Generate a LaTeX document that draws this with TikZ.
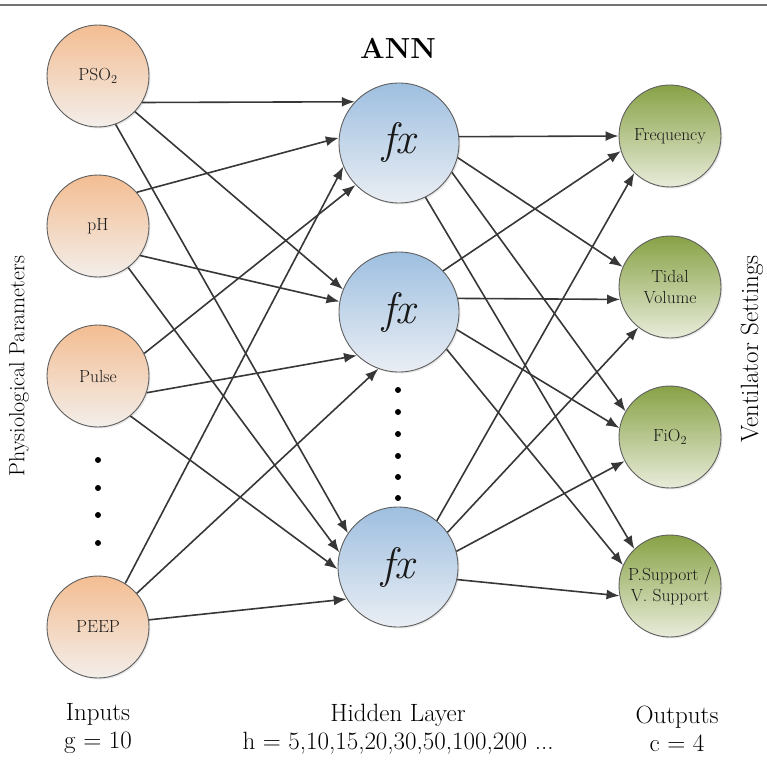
\documentclass[tikz,border=0pt]{standalone}
\usepackage{xcolor}
\usetikzlibrary{arrows.meta,shadows}

\definecolor{inTop}{RGB}{243,189,146}
\definecolor{inBot}{RGB}{243,238,234}
\definecolor{hidTop}{RGB}{158,191,224}
\definecolor{hidBot}{RGB}{234,238,244}
\definecolor{outTop}{RGB}{136,162,70}
\definecolor{outBot}{RGB}{232,236,218}
\definecolor{rim}{RGB}{95,95,95}
\definecolor{wire}{RGB}{55,55,55}

\tikzset{
  neuron/.style={circle,draw=rim,line width=0.9pt,inner sep=0pt,align=center,
    text=black!90,font=\fontsize{17.5}{21}\selectfont,
    drop shadow={shadow xshift=1.5pt,shadow yshift=-1.5pt,opacity=.18}},
  inp/.style={neuron,minimum size=102pt,top color=inTop,bottom color=inBot},
  hid/.style={neuron,minimum size=120pt,top color=hidTop,bottom color=hidBot,
    font=\fontsize{44}{46}\selectfont\itshape},
  outp/.style={neuron,minimum size=102pt,top color=outTop,bottom color=outBot},
  wght/.style={draw=wire,line width=1.6pt,-{Latex[length=13pt,width=10pt]}},
  lbl/.style={align=center,font=\fontsize{25}{28}\selectfont}
}

\begin{document}
\begin{tikzpicture}[x=1pt,y=-1pt]
\useasboundingbox (0,0) rectangle (767,759);
\draw[black!55,line width=1.2pt] (0,5) -- (767,5);

% inputs
\node[inp] (pso) at (98,76) {PSO\textsubscript{2}};
\node[inp] (ph) at (98,226) {pH};
\node[inp] (pulse) at (98,376) {Pulse};
\node[inp] (peep) at (98,627) {PEEP};
\foreach \y in {460,488,515,543}
  \fill (98,\y) circle (3pt);

% hidden layer
\node[hid] (fa) at (399,143) {fx};
\node[hid] (fb) at (399,312) {fx};
\node[hid] (fc) at (398,567) {fx};
\foreach \y in {390,412,434,456,477,498}
  \fill (398,\y) circle (3pt);

% outputs
\node[outp] (freq) at (670,136) {Frequency};
\node[outp] (tidal) at (670,287) {Tidal\\Volume};
\node[outp] (fio) at (670,437) {FiO\textsubscript{2}};
\node[outp] (supp) at (670,586) {P.Support /\\V. Support};

\foreach \s/\a/\t/\b in {pso/-31/fa/137, pso/-44/fb/158, pso/-70/fc/146,
    ph/41/fa/175, ph/-35/fb/170, ph/-54/fc/166,
    pulse/26/fa/224, pulse/-19/fb/226, pulse/-51/fc/182,
    peep/58/fa/203, peep/41/fb/250, peep/8/fc/212}
  \draw[wght] (\s.\a) -- (\t.\b);
\foreach \s/\a/\t/\b in {fa/6/freq/180, fa/-14/tidal/157, fa/-29/fio/150, fa/-64/supp/134,
    fb/43/freq/197, fb/13/tidal/194, fb/-17/fio/170, fb/-38/supp/156,
    fc/50/freq/226, fc/35/tidal/232, fc/15/fio/208, fc/-12/supp/191}
  \draw[wght] (\s.\a) -- (\t.\b);

\node[font=\bfseries\fontsize{29}{32}\selectfont] (ann) at (398,48) {ANN};
\node[rotate=90,font=\fontsize{22}{24}\selectfont] (phys) at (19,366) {Physiological Parameters};
\node[rotate=90,font=\fontsize{25}{28}\selectfont] (vent) at (752,349) {Ventilator Settings};
\node[lbl] (inlbl) at (98,729) {Inputs\\g = 10};
\node[lbl] (hidlbl) at (398,729) {Hidden Layer\\h = 5,10,15,20,30,50,100,200 ...};
\node[lbl] (outlbl) at (677,729) {Outputs\\c = 4};
\end{tikzpicture}
\end{document}
